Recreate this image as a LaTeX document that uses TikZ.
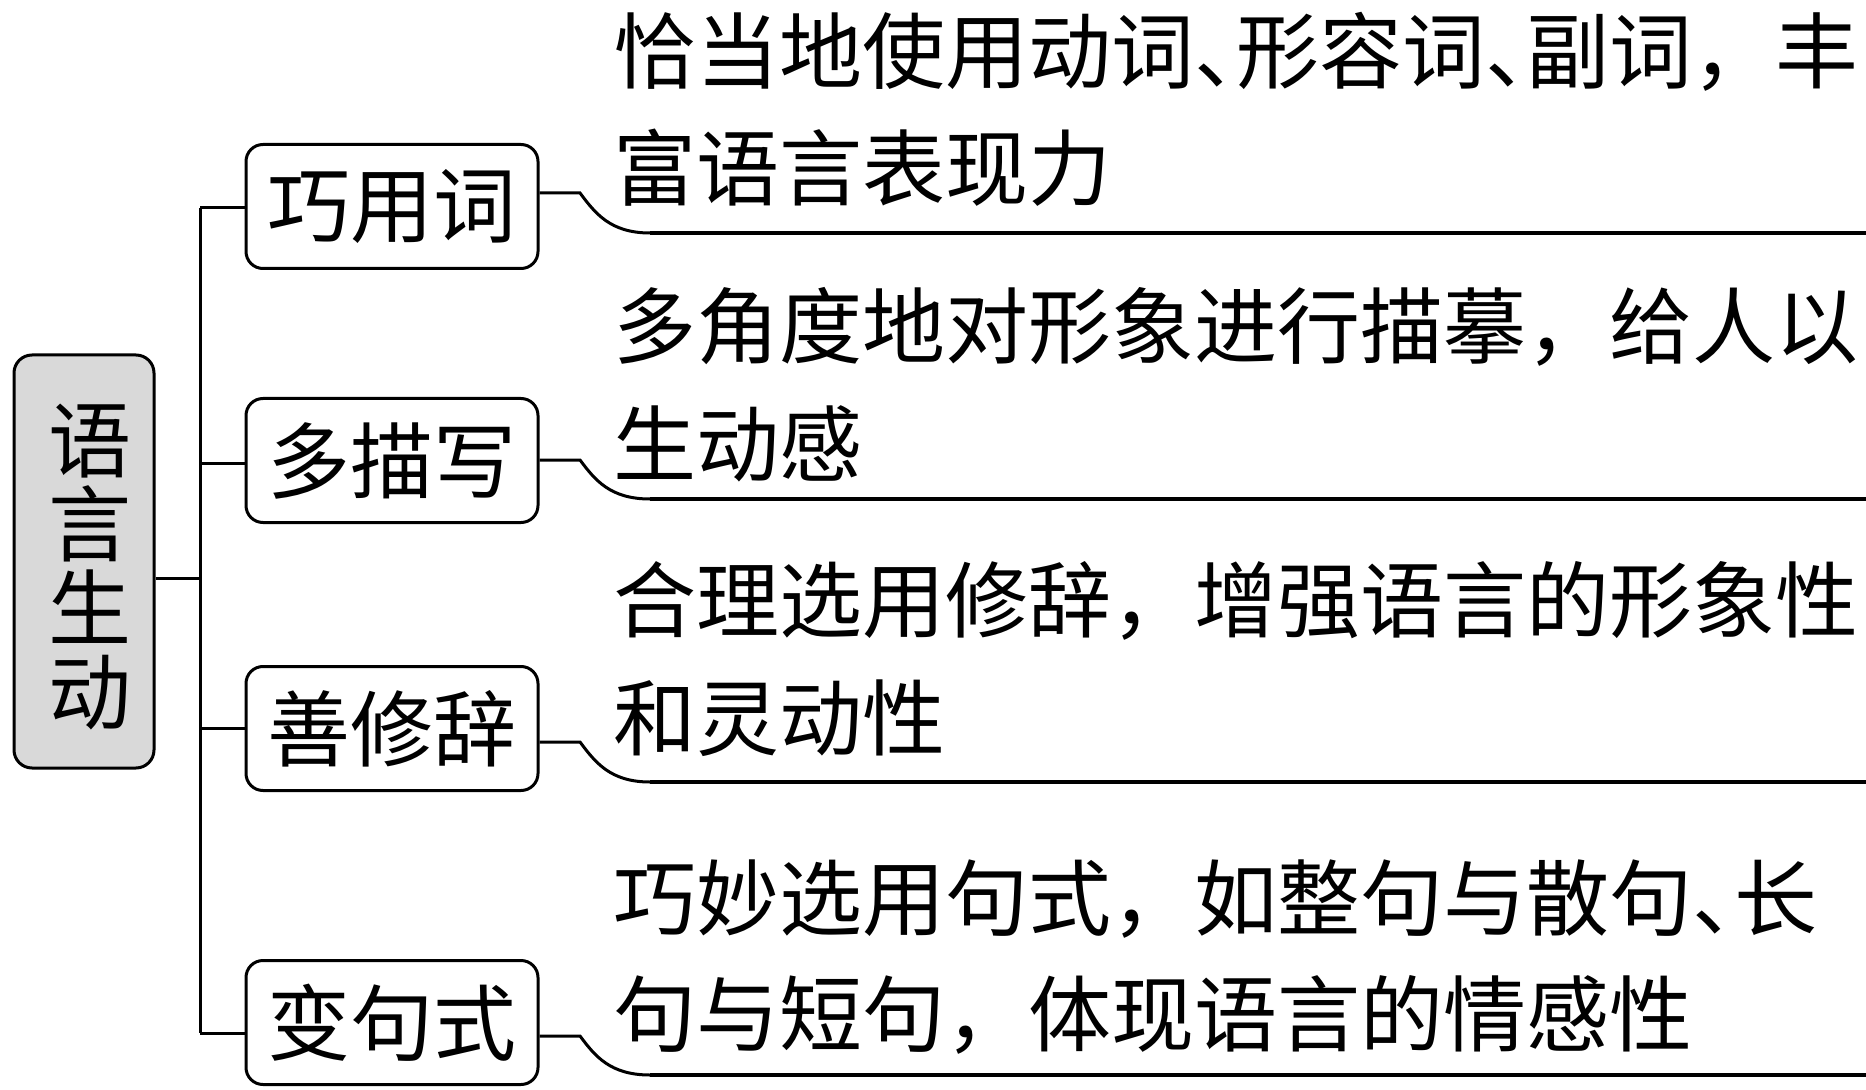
\documentclass[tikz,border=0pt]{standalone}
\usepackage{fontspec}
\newfontfamily\cjk{Noto Sans CJK SC}
\usetikzlibrary{calc}
\newcommand{\halfw}[1]{\makebox[0.5em][l]{#1}}
\begin{document}
\begin{tikzpicture}[x=0.5pt,y=-0.5pt,line width=1.5pt,
  cjkfont/.style={font=\cjk\fontsize{41.5}{42}\selectfont},
  branchbox/.style={draw,cjkfont,rounded corners=8.5pt,minimum width=146pt,minimum height=62pt,inner sep=0pt},
  rootbox/.style={draw,fill=black!15,rounded corners=9pt,minimum width=70pt,minimum height=206.5pt,inner sep=0pt},
  roottext/.style={cjkfont,align=center,inner sep=0pt},
  linetext/.style={cjkfont,anchor=base west,inner sep=0pt},
  conn/.style={line width=1.5pt},
  uline/.style={line width=2pt}]
\useasboundingbox (0,0) rectangle (1866,1090);

% root
\node[rootbox] (root) at (84,561.5) {};
\node[roottext] (rootlabel) at (90,567) {语\\言\\生\\动};

% branch boxes
\node[branchbox] (b1) at (392,206.5) {巧用词};
\node[branchbox] (b2) at (392,460.5) {多描写};
\node[branchbox] (b3) at (392,728.5) {善修辞};
\node[branchbox] (b4) at (392,1022.5) {变句式};

% trunk
\coordinate (tr) at (200,578);
\coordinate (t1) at (200,208);
\coordinate (t2) at (200,463);
\coordinate (t3) at (200,728);
\coordinate (t4) at (200,1033);
\draw[conn] (root.east |- tr) -- (tr);
\draw[conn] (t1) -- (t4);
\draw[conn] (t1) -- (t1 -| b1.west);
\draw[conn] (t2) -- (t2 -| b2.west);
\draw[conn] (t3) -- (t3 -| b3.west);
\draw[conn] (t4) -- (t4 -| b4.west);

% right connectors
\coordinate (r1) at (580,193);  \coordinate (u1) at (650,233);  \coordinate (e1) at (1870,233);
\coordinate (r2) at (580,460);  \coordinate (u2) at (650,499);  \coordinate (e2) at (1870,499);
\coordinate (r3) at (580,742);  \coordinate (u3) at (650,782);  \coordinate (e3) at (1870,782);
\coordinate (r4) at (580,1036); \coordinate (u4) at (650,1075); \coordinate (e4) at (1870,1075);
\foreach \i in {1,2,3,4}{
  \draw[conn] (b\i.east |- r\i) -- (r\i) .. controls ($(r\i)+(15,20)$) and ($(u\i)+(-40,0)$) .. (u\i);
  \draw[uline] (u\i) -- (e\i);
}

% texts
\node[linetext] (l1a) at (612,83) {恰当地使用动词\halfw{、}形容词\halfw{、}副词，丰};
\node[linetext] (l1b) at (612,199.5) {富语言表现力};
\node[linetext] (l2a) at (612,357.5) {多角度地对形象进行描摹，给人以};
\node[linetext] (l2b) at (612,475.5) {生动感};
\node[linetext] (l3a) at (612,631.5) {合理选用修辞，增强语言的形象性};
\node[linetext] (l3b) at (612,749) {和灵动性};
\node[linetext] (l4a) at (612,929) {巧妙选用句式，如整句与散句\halfw{、}长};
\node[linetext] (l4b) at (612,1045) {句与短句，体现语言的情感性};
\end{tikzpicture}
\end{document}
